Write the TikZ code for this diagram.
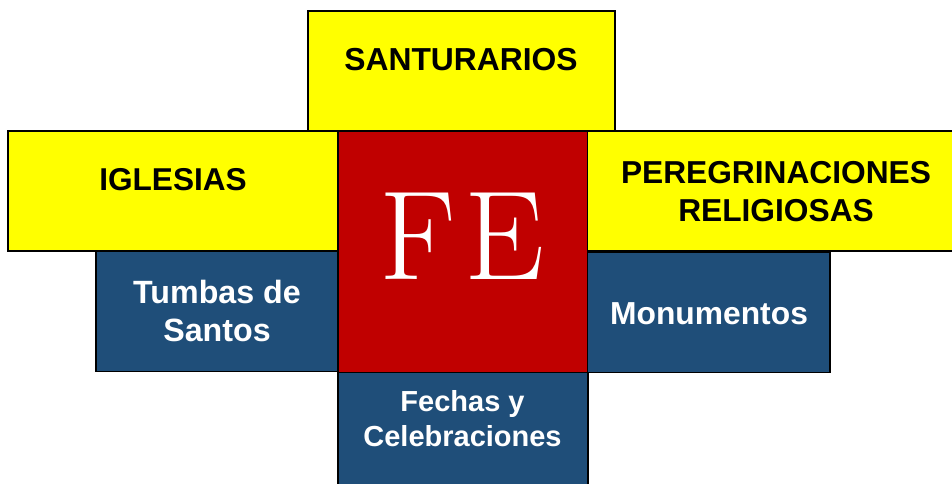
\documentclass[tikz,border=0pt]{standalone}
\usepackage{fontspec}
\setsansfont{Liberation Sans}
\usetikzlibrary{positioning}
\definecolor{tileyellow}{HTML}{FFFF00}
\definecolor{tilered}{HTML}{C00000}
\definecolor{tileblue}{HTML}{1F4E79}
\tikzset{mosaic/.style={
  x=1pt,y=-1pt,line join=miter
},
  tile/.style={draw=black,line width=1.5pt,inner sep=0pt,outer sep=0pt},
  yellowtile/.style={tile,fill=tileyellow},
  bluetile/.style={tile,fill=tileblue},
  redtile/.style={tile,fill=tilered},
  darklabel/.style={font=\sffamily\fontsize{31.8}{38}\selectfont\bfseries,align=center,text=black,inner sep=0pt},
  lightlabel/.style={font=\sffamily\fontsize{32.2}{38.5}\selectfont\bfseries,align=center,text=white,inner sep=0pt}
}

\begin{document}
\begin{tikzpicture}[mosaic]
  \useasboundingbox (0,0) rectangle (952,483);
  % tiles
  \node[yellowtile,minimum width=307,minimum height=120] (santuarios) at (461.5,71) {};
  \node[yellowtile,minimum width=329.5,minimum height=120] (iglesias) at (172.75,191) {};
  \node[yellowtile,minimum width=378,minimum height=120] (peregrinaciones) at (776,191) {};
  \node[bluetile,minimum width=242,minimum height=120.5] (tumbas) at (217,311.25) {};
  \node[bluetile,minimum width=243,minimum height=120.5] (monumentos) at (708.5,312.25) {};
  \node[bluetile,minimum width=250,minimum height=122.5] (fechas) at (463,433.75) {};
  \node[redtile,minimum width=249.5,minimum height=241.5] (fe) at (462.75,251.75) {};
  % labels
  \node[darklabel] (santuariosText) at (461,60) {SANTURARIOS};
  \node[darklabel,font=\sffamily\fontsize{31.6}{38}\selectfont\bfseries] (iglesiasText) at (173,180) {IGLESIAS};
  \node[darklabel,font=\sffamily\fontsize{31.7}{38}\selectfont\bfseries] (peregrinacionesText) at (776,192) {PEREGRINACIONES\\RELIGIOSAS};
  \node[lightlabel] (tumbasText) at (217,311) {Tumbas de\\Santos};
  \node[lightlabel,font=\sffamily\fontsize{31.8}{38}\selectfont\bfseries] (monumentosText) at (709,313.5) {Monumentos};
  \node[lightlabel,font=\sffamily\fontsize{29}{35}\selectfont\bfseries] (fechasText) at (462.5,418.5) {Fechas y\\Celebraciones};
  \node[text=white,inner sep=0pt,font=\rmfamily\fontsize{127}{127}\selectfont] (feText) at (462,236) {F\kern8pt E};
\end{tikzpicture}
\end{document}
